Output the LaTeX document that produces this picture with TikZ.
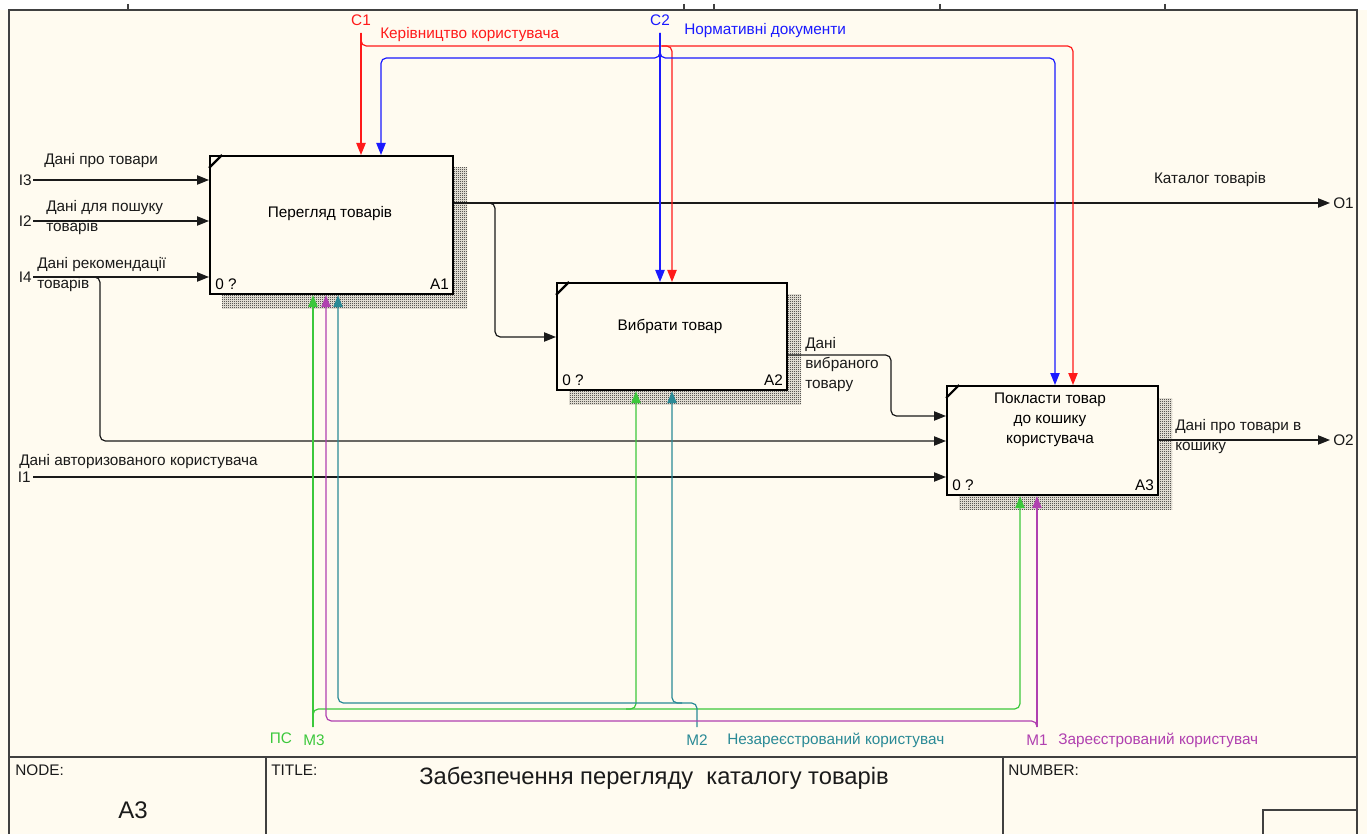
\documentclass[tikz,border=0pt]{standalone}
\usepackage{fontspec}
\setmainfont{Liberation Sans}
\usetikzlibrary{arrows.meta,patterns}

\definecolor{paper}{HTML}{FFFBF0}
\definecolor{framecol}{HTML}{404040}
\definecolor{ink}{HTML}{1A1A1A}
\definecolor{ctlred}{HTML}{FF1A1A}
\definecolor{ctlblue}{HTML}{1A1AFF}
\definecolor{mgreen}{HTML}{3CC83C}
\definecolor{mpurple}{HTML}{B040B0}
\definecolor{mteal}{HTML}{2A8A96}

% fine checker used for the box shadows
\pgfdeclarepatternformonly{checker}{\pgfpointorigin}{\pgfpoint{1.5pt}{1.5pt}}{\pgfpoint{1.5pt}{1.5pt}}{%
  \pgfpathrectangle{\pgfpointorigin}{\pgfpoint{0.75pt}{0.75pt}}%
  \pgfpathrectangle{\pgfpoint{0.75pt}{0.75pt}}{\pgfpoint{0.75pt}{0.75pt}}%
  \pgfusepath{fill}}

\pgfdeclarelayer{paperlayer}
\pgfdeclarelayer{shadowlayer}
\pgfsetlayers{paperlayer,shadowlayer,main}

\tikzset{
  idefbox/.style={draw=black, line width=1.6pt, fill=paper, inner sep=0pt, anchor=north west},
  flow/.style={line width=0.9pt, rounded corners=4pt, -{Triangle[length=9pt,width=7pt]}},
  lbl/.style={font=\fontsize{11.5}{15}\selectfont, inner sep=0pt, align=left},
  boxname/.style={font=\fontsize{11.5}{15}\selectfont, inner sep=0pt, align=center},
  frameline/.style={draw=framecol, line width=1pt},
  shadowfill/.style={pattern=checker, pattern color=black},
}

\begin{document}
\begin{tikzpicture}[x=0.75pt,y=-0.75pt]
\useasboundingbox (0,0) rectangle (1367,834);

\begin{pgfonlayer}{paperlayer}
  \fill[paper] (0,0) rectangle (1367,834);
  \fill[white] (0,0) rectangle (1367,10);
\end{pgfonlayer}

% sheet frame and ruler ticks
\draw[frameline] (9,834) -- (9,10) -- (1357,10) -- (1357,834);
\foreach \tx in {128,684,714,940,1165} \draw[frameline] (\tx,4) -- (\tx,10);

% activity boxes
\node[idefbox, minimum width=182.25pt, minimum height=103.5pt] (A1) at (209,155) {};
\node[idefbox, minimum width=172.5pt, minimum height=80.25pt] (A2) at (556,282) {};
\node[idefbox, minimum width=158.25pt, minimum height=81.75pt] (A3) at (946,385) {};

\begin{pgfonlayer}{shadowlayer}
  \foreach \b in {A1,A2,A3}
    \fill[shadowfill] ([shift={(13,13)}]\b.south west) rectangle ([shift={(13,13)}]\b.north east);
\end{pgfonlayer}

\foreach \b in {A1,A2,A3}
  \draw[line width=1.6pt] ([shift={(0,13)}]\b.north west) -- ([shift={(13,0)}]\b.north west);

\node[boxname] (A1name) at (330,214) {Перегляд товарів};
\node[boxname] (A2name) at (670,326) {Вибрати товар};
\node[boxname] (A3name) at (1050,420) {Покласти товар\\до кошику\\користувача};

\foreach \b/\n in {A1/A1,A2/A2,A3/A3} {
  \node[lbl, anchor=south west] (\b zero) at ([shift={(6,-5)}]\b.south west) {0 ?};
  \node[lbl, anchor=south east] (\b num) at ([shift={(-5,-5)}]\b.south east) {\n};
}

% free ends of the boundary arrows
\coordinate (i3) at (33,180);
\coordinate (i2) at (33,221);
\coordinate (i4) at (33,277);
\coordinate (i1) at (33,477);
\coordinate (i4b) at (100,441);
\coordinate (o1) at (1330,203);
\coordinate (o2) at (1330,440);
\coordinate (a1j) at (484,203);
\coordinate (a1b) at (495,337);
\coordinate (a2y) at (891,355);
\coordinate (a2b) at (891,416);
\coordinate (c1) at (361,33);
\coordinate (c1r) at (1073,46);
\coordinate (c1m) at (672,46);
\coordinate (c2) at (660,33);
\coordinate (c2l) at (381,58);
\coordinate (c2r) at (1055,58);
\coordinate (m3) at (313,727);
\coordinate (m3r) at (1020,709);
\coordinate (m3m) at (636,709);
\coordinate (m2) at (697,727);
\coordinate (m2l) at (338,703);
\coordinate (m2m) at (672,703);
\coordinate (m1) at (1037,727);
\coordinate (m1l) at (326,721);

% inputs
\begin{scope}[ink]
\draw[flow] (i3) -- (i3 -| A1.west);
\draw[flow] (i2) -- (i2 -| A1.west);
\draw[flow] (i4) -- (i4 -| A1.west);
\draw[flow] (i4) -- (i4b |- i4) -- (i4b) -- (i4b -| A3.west);
\draw[flow] (i1) -- (i1 -| A3.west);
% outputs
\draw[flow] (A1.east |- o1) -- (o1);
\draw[flow] (a1j) -- (a1j -| a1b) -- (a1b) -- (a1b -| A2.west);
\draw[flow] (A2.east |- a2y) -- (a2y) -- (a2b) -- (a2b -| A3.west);
\draw[flow] (A3.east |- o2) -- (o2);
\end{scope}

% controls
\draw[flow, ctlred] (c1) -- (c1 |- A1.north);
\draw[flow, ctlred] (c1) -- (c1 |- c1r) -- (c1r) -- (c1r |- A3.north);
\draw[flow, ctlred] ([shift={(-10,0)}]c1m) -- (c1m) -- (c1m |- A2.north);
\draw[flow, ctlblue] (c2) -- (c2 |- A2.north);
\draw[flow, ctlblue] (c2) -- (c2 |- c2l) -- (c2l) -- (c2l |- A1.north);
\draw[flow, ctlblue] (c2) -- (c2 |- c2r) -- (c2r) -- (c2r |- A3.north);

% mechanisms
\draw[flow, mgreen] (m3) -- (m3 |- A1.south);
\draw[flow, mgreen] (m3) -- (m3 |- m3r) -- (m3r) -- (m3r |- A3.south);
\draw[flow, mgreen] ([shift={(-10,0)}]m3m) -- (m3m) -- (m3m |- A2.south);
\draw[flow, mteal] (m2) -- (m2 |- m2l) -- (m2l) -- (m2l |- A1.south);
\draw[flow, mteal] ([shift={(10,0)}]m2m) -- (m2m) -- (m2m |- A2.south);
\draw[flow, mpurple] (m1) -- (m1 |- A3.south);
\draw[flow, mpurple] (m1) -- (m1 |- m1l) -- (m1l) -- (m1l |- A1.south);

% arrow labels
\begin{scope}[ink]
\node[lbl, anchor=east] (i3code) at (32,180) {I3};
\node[lbl, anchor=east] (i2code) at (32,221) {I2};
\node[lbl, anchor=east] (i4code) at (32,277) {I4};
\node[lbl, anchor=east] (i1code) at (31,477) {I1};
\node[lbl, anchor=west] (i3name) at (44,161) {Дані про товари};
\node[lbl, anchor=north west] (i2name) at (46,200) {Дані для пошуку\\товарів};
\node[lbl, anchor=north west] (i4name) at (37,257) {Дані рекомендації\\товарів};
\node[lbl, anchor=west] (i1name) at (19,462) {Дані авторизованого користувача};
\node[lbl, anchor=west] (o1code) at (1333,203) {O1};
\node[lbl, anchor=west] (o2code) at (1333,440) {O2};
\node[lbl] (o1name) at (1210,180) {Каталог товарів};
\node[lbl, anchor=north west] (a2name) at (805,337) {Дані\\вибраного\\товару};
\node[lbl, anchor=north west] (o2name) at (1175,419) {Дані про товари в\\кошику};
\end{scope}
\node[lbl, ctlred] (c1code) at (361,20) {C1};
\node[lbl, ctlred, anchor=west] (c1name) at (380,35) {Керівництво користувача};
\node[lbl, ctlblue] (c2code) at (660,20) {C2};
\node[lbl, ctlblue, anchor=west] (c2name) at (684,31) {Нормативні документи};
\node[lbl, mgreen] (m3name) at (281,738) {ПС};
\node[lbl, mgreen] (m3code) at (314,740) {M3};
\node[lbl, mteal] (m2code) at (697,740) {M2};
\node[lbl, mteal, anchor=west] (m2name) at (727,740) {Незареєстрований користувач};
\node[lbl, mpurple] (m1code) at (1037,740) {M1};
\node[lbl, mpurple, anchor=west] (m1name) at (1058,740) {Зареєстрований користувач};

% title block
\draw[frameline] (9,757) -- (1357,757);
\draw[frameline] (266,757) -- (266,834);
\draw[frameline] (1003,757) -- (1003,834);
\draw[frameline] (1263,834) -- (1263,810) -- (1357,810);
\node[lbl, ink, anchor=west] (nodehdr) at (15,770) {NODE:};
\node[lbl, ink, anchor=west] (titlehdr) at (271,770) {TITLE:};
\node[lbl, ink, anchor=west] (numhdr) at (1008,770) {NUMBER:};
\node[inner sep=0pt, ink, font=\fontsize{18}{20}\selectfont] (nodeval) at (133,810) {A3};
\node[inner sep=0pt, ink, font=\fontsize{17.8}{20}\selectfont] (titleval) at (654,778) {Забезпечення перегляду\ \ каталогу товарів};
\end{tikzpicture}
\end{document}
